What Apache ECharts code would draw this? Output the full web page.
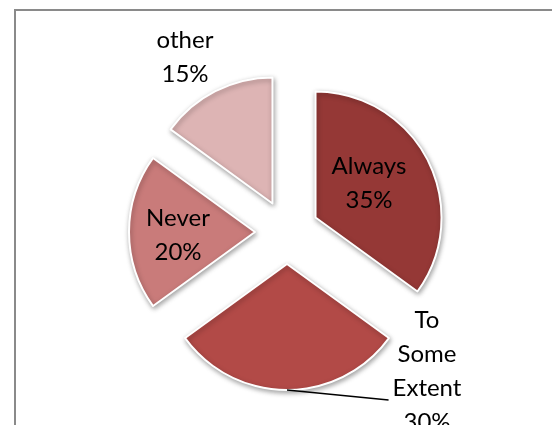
<!DOCTYPE html>
<html>
<head>
<meta charset="utf-8">
<script src="https://cdn.jsdelivr.net/npm/echarts@6/dist/echarts.min.js"></script>
<style>
  html, body { margin: 0; padding: 0; background: #fff; }
  #chart { width: 552px; height: 425px; }
</style>
</head>
<body>
<div id="chart"></div>
<script>
// Survey answers, clockwise from twelve o'clock
const categories = ['Always', 'To Some Extent', 'Never', 'other'];
const shares = [35, 30, 20, 15];

// Presentation settings
const sliceColors = ['#953836', '#b24a47', '#c97b7a', '#ddb4b4'];
const labelCenters = [[369, 183], [427, 371], [178, 235], [185, 57]];
const leaderDrop = 29;          // leader line ends beside the third text line

const pieCenter = [287, 232];
const pieRadius = 126;
const explode = 32;

const chart = echarts.init(document.getElementById('chart'), null, { renderer: 'canvas' });

// Exploded slices
const sliceData = categories.map((name, i) => {
  const style = {
    color: sliceColors[i],
    borderColor: '#ffffff',
    borderWidth: 2,
    shadowBlur: 5,
    shadowOffsetX: 1,
    shadowOffsetY: 2,
    shadowColor: 'rgba(0,0,0,0.35)'
  };
  return { name: name, value: shares[i], selected: true, itemStyle: style, select: { itemStyle: style } };
});

// Same shares again, unfilled, carrying the category labels; its outer rim
// runs through the outer rim of the exploded slices
const labelData = categories.map((name, i) => ({
  name: name,
  value: shares[i],
  labelLine: { show: name === 'To Some Extent' }
}));

chart.setOption({
  animation: false,
  backgroundColor: '#ffffff',
  graphic: [{
    type: 'rect',
    shape: { x: 15, y: 10, width: 620, height: 520 },
    style: { fill: 'none', stroke: '#8a8a8a', lineWidth: 2 },
    silent: true
  }],
  series: [{
    type: 'pie',
    center: pieCenter,
    radius: pieRadius,
    startAngle: 90,
    clockwise: true,
    selectedMode: 'multiple',
    selectedOffset: explode,
    label: { show: false },
    labelLine: { show: false },
    emphasis: { disabled: true },
    data: sliceData
  }, {
    type: 'pie',
    center: pieCenter,
    radius: pieRadius + explode,
    startAngle: 90,
    clockwise: true,
    silent: true,
    z: 5,
    avoidLabelOverlap: false,
    itemStyle: { color: 'rgba(0,0,0,0)', borderWidth: 0 },
    label: {
      show: true,
      position: 'outside',
      color: '#000000',
      fontFamily: 'Lato',
      fontSize: 24,
      lineHeight: 34,
      formatter: p => p.name.split(' ').join('\n') + '\n' + p.value + '%'
    },
    labelLine: {
      lineStyle: { color: '#000000', width: 1.5 },
      length: 10,
      length2: 20
    },
    labelLayout: function (params) {
      const c = labelCenters[params.dataIndex];
      const w = params.labelRect.width;
      const out = { x: c[0], y: c[1], align: 'center', verticalAlign: 'middle' };
      const pts = params.labelLinePoints;
      if (pts) {
        const end = [c[0] - w / 2 - 4, c[1] + leaderDrop];
        out.labelLinePoints = [pts[0], end, end];
      }
      return out;
    },
    emphasis: { disabled: true },
    data: labelData
  }]
});
</script>
</body>
</html>
